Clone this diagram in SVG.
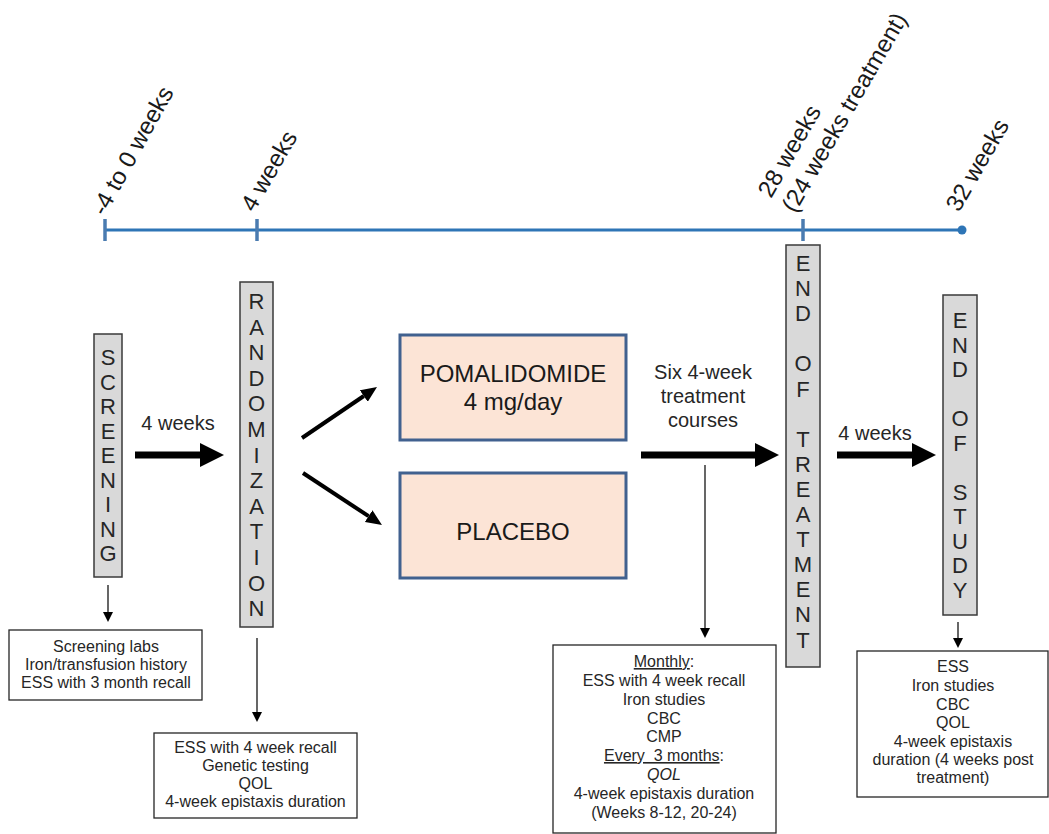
<svg xmlns="http://www.w3.org/2000/svg" width="1049" height="834" viewBox="0 0 1049 834">
<style>
text{font-family:"Liberation Sans",Arial,sans-serif;fill:#262626}
.tl{font-size:24px;fill:#1a1a1a}
.v{font-size:22px;text-anchor:middle}
.gbox{fill:#d9d9d9;stroke:#3a3a3a;stroke-width:1.5}
.pbox{fill:#fce4d6;stroke:#41618f;stroke-width:3}
.wbox{fill:#ffffff;stroke:#262626;stroke-width:1.3}
.bt{font-size:16px;text-anchor:middle}
.big{font-size:24px;text-anchor:middle;fill:#1a1a1a}
.lbl{font-size:20px;text-anchor:middle}
.thick{stroke:#000;stroke-width:7;fill:none}
.diag{stroke:#000;stroke-width:4;fill:none}
.thin{stroke:#000;stroke-width:1.2;fill:none}
.u{text-decoration:underline}
</style>
<defs>
<marker id="hThick" markerUnits="userSpaceOnUse" markerWidth="24" markerHeight="24" viewBox="0 0 24 24" refX="0" refY="12" orient="auto"><path d="M0,0 L24,12 L0,24 z" fill="#000"/></marker>
<marker id="hDiag" markerUnits="userSpaceOnUse" markerWidth="16" markerHeight="14" viewBox="0 0 16 14" refX="0" refY="7" orient="auto"><path d="M0,0 L16,7 L0,14 z" fill="#000"/></marker>
<marker id="hThin" markerUnits="userSpaceOnUse" markerWidth="10" markerHeight="10" viewBox="0 0 10 10" refX="0" refY="5" orient="auto"><path d="M0,0 L10,5 L0,10 z" fill="#000"/></marker>
</defs>
<rect width="1049" height="834" fill="#ffffff"/>

<g id="timeline">
<line x1="105" y1="230" x2="962" y2="230" stroke="#2e75b6" stroke-width="3"/>
<line x1="105" y1="219" x2="105" y2="241" stroke="#4a7bb0" stroke-width="3.5"/>
<line x1="257" y1="219" x2="257" y2="241" stroke="#4a7bb0" stroke-width="3.5"/>
<line x1="803" y1="219" x2="803" y2="241" stroke="#4a7bb0" stroke-width="3.5"/>
<circle cx="962" cy="230" r="4.5" fill="#2e75b6"/>
<text class="tl" transform="translate(105,217) rotate(-61)">-4 to 0 weeks</text>
<text class="tl" transform="translate(254,213) rotate(-60)">4 weeks</text>
<text class="tl" transform="translate(771,199) rotate(-60)">28 weeks</text>
<text class="tl" transform="translate(795,214) rotate(-60)">(24 weeks treatment)</text>
<text class="tl" transform="translate(959,213) rotate(-60)">32 weeks</text>
</g>

<g id="screening">
<rect class="gbox" x="94" y="334" width="28" height="243"/>
<text class="v"><tspan x="108" y="365">S</tspan><tspan x="108" y="389.5">C</tspan><tspan x="108" y="414">R</tspan><tspan x="108" y="438.5">E</tspan><tspan x="108" y="463">E</tspan><tspan x="108" y="487.5">N</tspan><tspan x="108" y="512">I</tspan><tspan x="108" y="536.5">N</tspan><tspan x="108" y="561">G</tspan></text>
</g>

<g id="randomization">
<rect class="gbox" x="240" y="282" width="33" height="345"/>
<text class="v"><tspan x="256.5" y="309">R</tspan><tspan x="256.5" y="334.6">A</tspan><tspan x="256.5" y="360.2">N</tspan><tspan x="256.5" y="385.8">D</tspan><tspan x="256.5" y="411.4">O</tspan><tspan x="256.5" y="437">M</tspan><tspan x="256.5" y="462.6">I</tspan><tspan x="256.5" y="488.2">Z</tspan><tspan x="256.5" y="513.8">A</tspan><tspan x="256.5" y="539.4">T</tspan><tspan x="256.5" y="565">I</tspan><tspan x="256.5" y="590.6">O</tspan><tspan x="256.5" y="616.2">N</tspan></text>
</g>

<g id="pomalidomide">
<rect class="pbox" x="400" y="335" width="226" height="105"/>
<text class="big" x="513" y="382">POMALIDOMIDE</text>
<text class="big" x="513" y="410">4 mg/day</text>
</g>

<g id="placebo">
<rect class="pbox" x="400" y="473" width="226" height="105"/>
<text class="big" x="513" y="540">PLACEBO</text>
</g>

<g id="end-of-treatment">
<rect class="gbox" x="786" y="245" width="34" height="422"/>
<text class="v"><tspan x="803" y="271">E</tspan><tspan x="803" y="296.1">N</tspan><tspan x="803" y="321.2">D</tspan><tspan x="803" y="371.4">O</tspan><tspan x="803" y="396.5">F</tspan><tspan x="803" y="446.7">T</tspan><tspan x="803" y="471.8">R</tspan><tspan x="803" y="496.9">E</tspan><tspan x="803" y="522">A</tspan><tspan x="803" y="547.1">T</tspan><tspan x="803" y="572.2">M</tspan><tspan x="803" y="597.3">E</tspan><tspan x="803" y="622.4">N</tspan><tspan x="803" y="647.5">T</tspan></text>
</g>

<g id="end-of-study">
<rect class="gbox" x="943" y="295" width="34" height="320"/>
<text class="v"><tspan x="960" y="328">E</tspan><tspan x="960" y="352.5">N</tspan><tspan x="960" y="377">D</tspan><tspan x="960" y="426">O</tspan><tspan x="960" y="450.5">F</tspan><tspan x="960" y="499.5">S</tspan><tspan x="960" y="524">T</tspan><tspan x="960" y="548.5">U</tspan><tspan x="960" y="573">D</tspan><tspan x="960" y="597.5">Y</tspan></text>
</g>

<g id="screening-assessments">
<rect class="wbox" x="9" y="630" width="193" height="70"/>
<text class="bt" x="106" y="652">Screening labs</text>
<text class="bt" x="106" y="670">Iron/transfusion history</text>
<text class="bt" x="106" y="688">ESS with 3 month recall</text>
</g>

<g id="baseline-assessments">
<rect class="wbox" x="154" y="733" width="203" height="85"/>
<text class="bt" x="255.5" y="753">ESS with 4 week recall</text>
<text class="bt" x="255.5" y="771">Genetic testing</text>
<text class="bt" x="255.5" y="789">QOL</text>
<text class="bt" x="255.5" y="807">4-week epistaxis duration</text>
</g>

<g id="treatment-assessments">
<rect class="wbox" x="553" y="645" width="223" height="188"/>
<text class="bt" x="664" y="667"><tspan class="u">Monthly</tspan>:</text>
<text class="bt" x="664" y="686">ESS with 4 week recall</text>
<text class="bt" x="664" y="705">Iron studies</text>
<text class="bt" x="664" y="724">CBC</text>
<text class="bt" x="664" y="742">CMP</text>
<text class="bt" x="664" y="761" xml:space="preserve"><tspan class="u">Every  3 months</tspan>:</text>
<text class="bt" x="664" y="780" font-style="italic">QOL</text>
<text class="bt" x="664" y="799">4-week epistaxis duration</text>
<text class="bt" x="664" y="818">(Weeks 8-12, 20-24)</text>
</g>

<g id="final-assessments">
<rect class="wbox" x="857" y="651" width="191" height="146"/>
<text class="bt" x="953" y="672">ESS</text>
<text class="bt" x="953" y="691">Iron studies</text>
<text class="bt" x="953" y="710">CBC</text>
<text class="bt" x="953" y="728">QOL</text>
<text class="bt" x="953" y="747">4-week epistaxis</text>
<text class="bt" x="953" y="765">duration (4 weeks post</text>
<text class="bt" x="953" y="783">treatment)</text>
</g>

<g id="connectors">
<line class="thick" x1="135" y1="455" x2="200" y2="455" marker-end="url(#hThick)"/>
<text class="lbl" x="178" y="430">4 weeks</text>
<line class="diag" x1="302" y1="438" x2="363.8" y2="396" marker-end="url(#hDiag)"/>
<line class="diag" x1="303" y1="473" x2="368.6" y2="516.2" marker-end="url(#hDiag)"/>
<text class="lbl" x="703" y="379">Six 4-week</text>
<text class="lbl" x="703" y="403">treatment</text>
<text class="lbl" x="703" y="427">courses</text>
<line class="thick" x1="641" y1="455" x2="755" y2="455" marker-end="url(#hThick)"/>
<line class="thick" x1="837" y1="455" x2="912" y2="455" marker-end="url(#hThick)"/>
<text class="lbl" x="875" y="440">4 weeks</text>
<line class="thin" x1="108" y1="585" x2="108" y2="612" marker-end="url(#hThin)"/>
<line class="thin" x1="257" y1="638" x2="257" y2="712" marker-end="url(#hThin)"/>
<line class="thin" x1="705" y1="465" x2="705" y2="628" marker-end="url(#hThin)"/>
<line class="thin" x1="958" y1="622" x2="958" y2="638" marker-end="url(#hThin)"/>
</g>
</svg>
